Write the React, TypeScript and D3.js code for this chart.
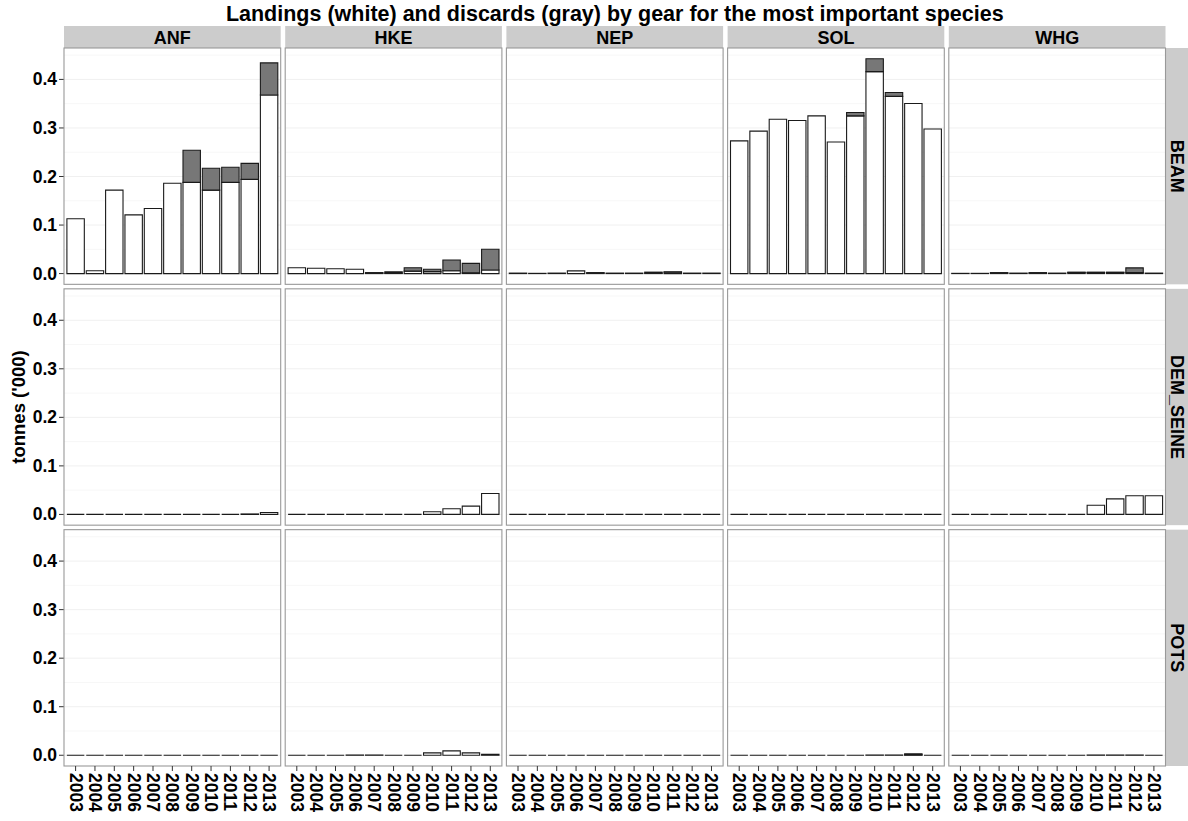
import React from "react";
import * as d3 from "d3";

const species = ["ANF", "HKE", "NEP", "SOL", "WHG"];
const gears = ["BEAM", "DEM_SEINE", "POTS"];
const years = ["2003", "2004", "2005", "2006", "2007", "2008", "2009", "2010", "2011", "2012", "2013"];
const yTicks = [0, 0.1, 0.2, 0.3, 0.4];
const yMinor = [0.05, 0.15, 0.25, 0.35, 0.45];

// landings per species (rows: ANF, HKE, NEP, SOL, WHG)
const landingsBEAM = [
  [0.113, 0.006, 0.172, 0.121, 0.134, 0.186, 0.188, 0.172, 0.188, 0.194, 0.368],
  [0.012, 0.011, 0.010, 0.009, 0.001, 0.001, 0.005, 0.004, 0.006, 0.0015, 0.0075],
  [0.001, 0.0005, 0.001, 0.0055, 0.001, 0.001, 0.001, 0.001, 0.003, 0.001, 0.001],
  [0.2735, 0.2935, 0.318, 0.3155, 0.325, 0.271, 0.325, 0.416, 0.365, 0.3505, 0.298],
  [0.0005, 0.0005, 0.001, 0.001, 0.001, 0.001, 0.002, 0.002, 0.002, 0.002, 0.001],
];
const discardsBEAM = [
  [0, 0, 0, 0, 0, 0, 0.066, 0.045, 0.031, 0.033, 0.066],
  [0, 0, 0, 0, 0.001, 0.0025, 0.007, 0.005, 0.022, 0.0195, 0.0425],
  [0, 0, 0, 0, 0.001, 0, 0, 0.002, 0.0005, 0, 0],
  [0, 0, 0, 0, 0, 0, 0.007, 0.0266, 0.008, 0, 0],
  [0, 0, 0.001, 0, 0.001, 0, 0.001, 0.001, 0.001, 0.0097, 0],
];
const landingsDEM_SEINE = [
  [0, 0, 0, 0, 0, 0, 0, 0, 0, 0.001, 0.004],
  [0, 0, 0, 0, 0, 0, 0, 0.0055, 0.0117, 0.017, 0.043],
  [0, 0, 0, 0, 0, 0, 0, 0, 0, 0, 0],
  [0, 0, 0, 0, 0, 0, 0, 0, 0, 0, 0],
  [0, 0, 0, 0, 0, 0, 0, 0.019, 0.032, 0.0385, 0.0385],
];
const discardsDEM_SEINE = [
  [0, 0, 0, 0, 0, 0, 0, 0, 0, 0, 0],
  [0, 0, 0, 0, 0, 0, 0, 0, 0, 0, 0],
  [0, 0, 0, 0, 0, 0, 0, 0, 0, 0, 0],
  [0, 0, 0, 0, 0, 0, 0, 0, 0, 0, 0],
  [0, 0, 0, 0, 0, 0, 0, 0, 0, 0, 0],
];
const landingsPOTS = [
  [0, 0, 0, 0, 0, 0, 0, 0, 0, 0, 0],
  [0, 0, 0, 0.0005, 0.0005, 0, 0, 0.005, 0.009, 0.005, 0.002],
  [0, 0, 0, 0, 0, 0, 0, 0, 0, 0, 0],
  [0, 0, 0, 0, 0, 0, 0, 0.0005, 0.0005, 0.001, 0],
  [0, 0, 0, 0, 0, 0, 0, 0.0005, 0.0005, 0.0005, 0],
];
const discardsPOTS = [
  [0, 0, 0, 0, 0, 0, 0, 0, 0, 0, 0],
  [0, 0, 0, 0, 0, 0, 0, 0, 0, 0, 0],
  [0, 0, 0, 0, 0, 0, 0, 0, 0, 0, 0],
  [0, 0, 0, 0, 0, 0, 0, 0, 0, 0.002, 0],
  [0, 0, 0, 0, 0, 0, 0, 0, 0, 0, 0],
];

const landings = [landingsBEAM, landingsDEM_SEINE, landingsPOTS];
const discards = [discardsBEAM, discardsDEM_SEINE, discardsPOTS];

const W = 1188;
const H = 821;
const left = 64;
const right = 1165.5;
const top = 48;
const bottom = 766;
const gapX = 4.5;
const gapY = 4.5;
const pw = (right - left - gapX * (species.length - 1)) / species.length;
const ph = (bottom - top - gapY * (gears.length - 1)) / gears.length;
const FONT = "'Liberation Sans', Arial, Helvetica, sans-serif";

export default function App() {
  let maxTotal = 0;
  gears.forEach((_, g) =>
    species.forEach((_, s) =>
      years.forEach((_, i) => {
        maxTotal = Math.max(maxTotal, landings[g][s][i] + discards[g][s][i]);
      })
    )
  );
  const pad = maxTotal * 0.05;

  const x = d3.scaleBand<string>().domain(years).range([0, pw]).paddingInner(0.1).paddingOuter(0.15);
  const y = d3.scaleLinear().domain([-pad, maxTotal + pad]).range([ph, 0]);

  const rectPath = (x0: number, w: number, y0: number, y1: number) =>
    `M${x0},${y0}H${x0 + w}V${y1}H${x0}Z`;

  return (
    <svg width={W} height={H} style={{ position: "absolute", left: 0, top: 0, background: "#fff" }} fontFamily={FONT}>
      <rect x={0} y={0} width={W} height={H} fill="#fff" />
      <text x={(left + right) / 2} y={21} textAnchor="middle" fontSize={21.5} fontWeight="bold" fill="#000">
        Landings (white) and discards (gray) by gear for the most important species
      </text>
      {species.map((sp, s) => {
        const px = left + s * (pw + gapX);
        return (
          <g key={sp}>
            <rect x={px} y={26} width={pw} height={top - 26} fill="#cccccc" />
            <text x={px + pw / 2} y={37.5} textAnchor="middle" dominantBaseline="central" fontSize={18} fontWeight="bold" fill="#000">
              {sp}
            </text>
          </g>
        );
      })}
      {gears.map((gr, g) => {
        const py = top + g * (ph + gapY);
        return (
          <g key={gr}>
            <rect x={1166} y={py} width={W - 1166} height={ph} fill="#cccccc" />
            <text
              transform={`translate(${1177},${py + ph / 2}) rotate(90)`}
              textAnchor="middle"
              dominantBaseline="central"
              fontSize={18}
              fontWeight="bold"
              fill="#000"
            >
              {gr}
            </text>
            {yTicks.map((t) => (
              <g key={t}>
                <line x1={left - 5} x2={left} y1={py + y(t)} y2={py + y(t)} stroke="#333" strokeWidth={1} />
                <text x={left - 7} y={py + y(t)} textAnchor="end" dominantBaseline="central" fontSize={17.5} fontWeight="bold" fill="#000">
                  {t.toFixed(1)}
                </text>
              </g>
            ))}
            {species.map((sp, s) => {
              const px = left + s * (pw + gapX);
              return (
                <g key={sp} transform={`translate(${px},${py})`}>
                  <rect x={0} y={0} width={pw} height={ph} fill="#fff" />
                  {yMinor.filter((t) => y(t) > 0).map((t) => (
                    <line key={"m" + t} x1={0} x2={pw} y1={y(t)} y2={y(t)} stroke="#f7f7f7" strokeWidth={1} />
                  ))}
                  {yTicks.map((t) => (
                    <line key={"M" + t} x1={0} x2={pw} y1={y(t)} y2={y(t)} stroke="#f0f0f0" strokeWidth={1} />
                  ))}
                  {years.map((yr, i) => {
                    const L = landings[g][s][i];
                    const D = discards[g][s][i];
                    const bx = x(yr) as number;
                    const bw = x.bandwidth();
                    return (
                      <g key={yr}>
                        <path d={rectPath(bx, bw, y(0), y(L))} fill="#fff" stroke="#1a1a1a" strokeWidth={1.1} />
                        {D > 0 && (
                          <path d={rectPath(bx, bw, y(L), y(L + D))} fill="#777777" stroke="#1a1a1a" strokeWidth={1.1} />
                        )}
                      </g>
                    );
                  })}
                  <rect x={0} y={0} width={pw} height={ph} fill="none" stroke="#999" strokeWidth={1.1} />
                </g>
              );
            })}
          </g>
        );
      })}
      {species.map((sp, s) => {
        const px = left + s * (pw + gapX);
        return (
          <g key={"xa" + sp}>
            {years.map((yr) => {
              const cx = px + (x(yr) as number) + x.bandwidth() / 2;
              return (
                <g key={yr}>
                  <line x1={cx} x2={cx} y1={bottom} y2={bottom + 5} stroke="#333" strokeWidth={1} />
                  <text
                    transform={`translate(${cx},${bottom + 7}) rotate(90)`}
                    textAnchor="start"
                    dominantBaseline="central"
                    fontSize={17.5}
                    fontWeight="bold"
                    fill="#000"
                  >
                    {yr}
                  </text>
                </g>
              );
            })}
          </g>
        );
      })}
      <text
        transform={`translate(${18},${(top + bottom) / 2}) rotate(-90)`}
        textAnchor="middle"
        dominantBaseline="central"
        fontSize={18.5}
        fontWeight="bold"
        fill="#000"
      >
        tonnes ('000)
      </text>
    </svg>
  );
}
